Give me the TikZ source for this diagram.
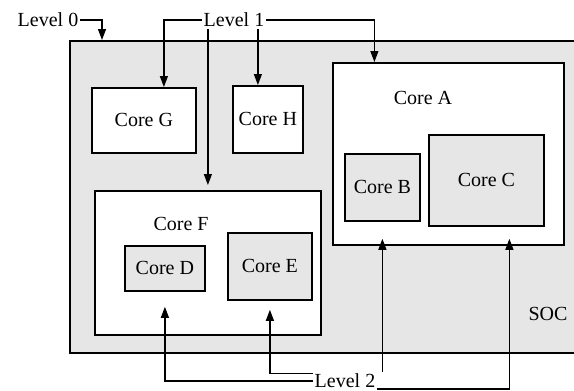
\documentclass[tikz,border=0pt]{standalone}
\usepackage{fontspec}
\setmainfont{Liberation Serif}
\usetikzlibrary{arrows.meta,positioning}
\definecolor{socgray}{RGB}{230,230,230}
\tikzset{
    every node/.style={font=\fontsize{20}{22}\selectfont},
    core node/.style={draw,line width=1.8pt,fill=white,inner sep=0pt,anchor=north west},
    inner node/.style={core node,fill=socgray},
    level node/.style={inner sep=2pt},
    link/.style={line width=1.2pt,-{Triangle[length=11pt,width=8pt]}}
}

\begin{document}
\begin{tikzpicture}[x=1pt,y=-1pt]

    \useasboundingbox (0,0) rectangle (574,391);
    \clip (0,0) rectangle (574,391);

    \node (soc) [core node,fill=socgray,minimum width=530,minimum height=312] at (69,40) {};
    \node (soclabel) at (548,314) {SOC};

    \node (G) [core node,minimum width=104,minimum height=65] at (91,87) {Core G};
    \node (H) [core node,minimum width=70,minimum height=67] at (232,85) {Core H};

    \node (A) [core node,minimum width=231,minimum height=182] at (332,62) {};
    \node (atext) at (423,98) {Core A};
    \node (B) [inner node,minimum width=75,minimum height=67] at (344,153) {Core B};
    \node (C) [inner node,minimum width=115,minimum height=91] at (428,134) {Core C};

    \node (F) [core node,minimum width=226,minimum height=144] at (94,190) {};
    \node (ftext) at (181,224) {Core F};
    \node (D) [inner node,minimum width=80,minimum height=45] at (124,245) {Core D};
    \node (E) [inner node,minimum width=84,minimum height=67] at (227,232) {Core E};

    \node (lvl0) [level node] at (48,20) {Level 0};
    \node (lvl1) [level node] at (234,20) {Level 1};
    \node (lvl2) [level node] at (345,381) {Level 2};

    \coordinate (hin) at ([xshift=-10pt]H.north);
    \coordinate (dout) at ([yshift=-15pt]D.south);
    \coordinate (eout) at ([yshift=-9pt]E.south);
    \coordinate (bout) at ([yshift=-17pt]B.south);
    \coordinate (cout) at ([xshift=23pt,yshift=-12pt]C.south);

    \draw[link] (lvl0.east) -| ([xshift=33pt]soc.north west);

    \draw[link] (lvl1.west) -| ([xshift=20pt]G.north);
    \draw[link] (lvl1.south -| F.north) -- ([yshift=5pt]F.north);
    \draw[link] (lvl1.south -| hin) -- (hin);
    \draw[link] (lvl1.east) -| ([xshift=-74pt]A.north);

    \draw[link] (lvl2.west) -| (dout);
    \draw[link] ([yshift=-2pt]lvl2.north west) -| (eout);
    \draw[link] (lvl2.north -| bout) -- (bout);
    \draw[link] ([yshift=-8pt]lvl2.east) -| (cout);

\end{tikzpicture}
\end{document}
